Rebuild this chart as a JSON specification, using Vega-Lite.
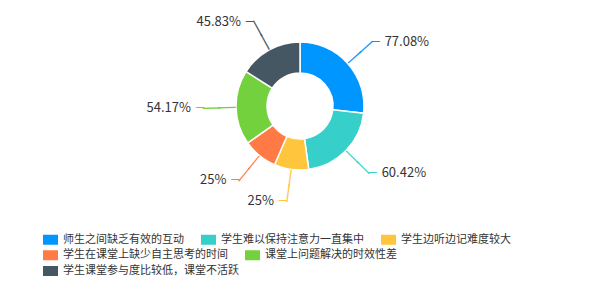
{
  "$schema": "https://vega.github.io/schema/vega-lite/v6.json",
  "width": 600,
  "height": 212,
  "autosize": "none",
  "padding": {"left": 0, "top": 0, "right": 0, "bottom": 88},
  "background": "white",
  "config": {
    "view": {"stroke": null},
    "font": "Noto Sans CJK SC",
    "legend": {
      "orient": "none",
      "direction": "horizontal",
      "title": null,
      "padding": 0,
      "offset": 0,
      "labelFontSize": 11,
      "labelColor": "#333333",
      "labelFont": "Noto Sans CJK SC",
      "labelLimit": 300,
      "labelOffset": 5,
      "columnPadding": 17,
      "symbolType": "M-1,-0.667H1V0.667H-1Z",
      "symbolSize": 225,
      "symbolStrokeWidth": 0,
      "symbolOpacity": 1
    }
  },
  "data": {
    "values": [
      {"i": 1, "cat": "师生之间缺乏有效的互动", "value": 77.08, "label": "77.08%"},
      {"i": 2, "cat": "学生难以保持注意力一直集中", "value": 60.42, "label": "60.42%"},
      {"i": 3, "cat": "学生边听边记难度较大", "value": 25, "label": "25%"},
      {"i": 4, "cat": "学生在课堂上缺少自主思考的时间", "value": 25, "label": "25%"},
      {"i": 5, "cat": "课堂上问题解决的时效性差", "value": 54.17, "label": "54.17%"},
      {"i": 6, "cat": "学生课堂参与度比较低，课堂不活跃", "value": 45.83, "label": "45.83%"}
    ]
  },
  "transform": [
    {"joinaggregate": [{"op": "sum", "field": "value", "as": "total"}]},
    {"window": [{"op": "sum", "field": "value", "as": "cum"}], "sort": [{"field": "i"}], "frame": [null, 0]},
    {"calculate": "(datum.cum - datum.value / 2) / datum.total * 360", "as": "mid"}
  ],
  "layer": [
    {
      "mark": {"type": "arc", "innerRadius": 33, "outerRadius": 64, "stroke": "white", "strokeWidth": 1.5},
      "encoding": {
        "theta": {"field": "value", "type": "quantitative", "stack": true},
        "order": {"field": "i", "type": "quantitative"},
        "color": {
          "field": "cat", "type": "nominal",
          "scale": {
            "domain": ["师生之间缺乏有效的互动", "学生难以保持注意力一直集中", "学生边听边记难度较大", "学生在课堂上缺少自主思考的时间", "课堂上问题解决的时效性差", "学生课堂参与度比较低，课堂不活跃"],
            "range": ["#0096FF", "#36CFC9", "#FFC53D", "#FF7A45", "#73D13D", "#465764"]
          },
          "legend": {"values": ["师生之间缺乏有效的互动", "学生难以保持注意力一直集中", "学生边听边记难度较大"], "legendX": 43, "legendY": 232}
        }
      }
    },
    {
      "mark": {"type": "text", "radius": 73, "text": "│", "font": "DejaVu Sans Mono", "fontSize": 15},
      "encoding": {
        "theta": {"field": "value", "type": "quantitative", "stack": true},
        "order": {"field": "i", "type": "quantitative"},
        "angle": {"field": "mid", "type": "quantitative", "scale": {"domain": [0, 360], "range": [0, 360]}},
        "color": {
          "field": "cat", "type": "nominal",
          "scale": {
            "domain": ["师生之间缺乏有效的互动", "学生难以保持注意力一直集中", "学生边听边记难度较大", "学生在课堂上缺少自主思考的时间", "课堂上问题解决的时效性差", "学生课堂参与度比较低，课堂不活跃"],
            "range": ["#0096FF", "#36CFC9", "#FFC53D", "#FF7A45", "#73D13D", "#465764"]
          },
          "legend": {"values": ["学生在课堂上缺少自主思考的时间", "课堂上问题解决的时效性差"], "legendX": 43, "legendY": 247.5}
        }
      }
    },
    {
      "mark": {"type": "text", "radius": 88, "text": "│", "font": "DejaVu Sans Mono", "fontSize": 15},
      "encoding": {
        "theta": {"field": "value", "type": "quantitative", "stack": true},
        "order": {"field": "i", "type": "quantitative"},
        "angle": {"field": "mid", "type": "quantitative", "scale": {"domain": [0, 360], "range": [0, 360]}},
        "color": {
          "field": "cat", "type": "nominal",
          "scale": {
            "domain": ["师生之间缺乏有效的互动", "学生难以保持注意力一直集中", "学生边听边记难度较大", "学生在课堂上缺少自主思考的时间", "课堂上问题解决的时效性差", "学生课堂参与度比较低，课堂不活跃"],
            "range": ["#0096FF", "#36CFC9", "#FFC53D", "#FF7A45", "#73D13D", "#465764"]
          },
          "legend": null
        }
      }
    },
    {
      "mark": {"type": "text", "radius": 96, "text": "─", "font": "DejaVu Sans Mono", "fontSize": 13, "align": {"expr": "datum.mid < 180 ? 'left' : 'right'"}},
      "encoding": {
        "theta": {"field": "value", "type": "quantitative", "stack": true},
        "order": {"field": "i", "type": "quantitative"},
        "color": {
          "field": "cat", "type": "nominal",
          "scale": {
            "domain": ["师生之间缺乏有效的互动", "学生难以保持注意力一直集中", "学生边听边记难度较大", "学生在课堂上缺少自主思考的时间", "课堂上问题解决的时效性差", "学生课堂参与度比较低，课堂不活跃"],
            "range": ["#0096FF", "#36CFC9", "#FFC53D", "#FF7A45", "#73D13D", "#465764"]
          },
          "legend": {"values": ["学生课堂参与度比较低，课堂不活跃"], "legendX": 43, "legendY": 263.5}
        }
      }
    },
    {
      "mark": {"type": "text", "radius": 96, "fontSize": 13, "fill": "#333333", "align": {"expr": "datum.mid < 180 ? 'left' : 'right'"}, "dx": {"expr": "datum.mid < 180 ? 13 : -13"}},
      "encoding": {
        "theta": {"field": "value", "type": "quantitative", "stack": true},
        "order": {"field": "i", "type": "quantitative"},
        "text": {"field": "label", "type": "nominal"}
      }
    }
  ],
  "resolve": {"scale": {"color": "independent"}, "legend": {"color": "independent"}}
}
